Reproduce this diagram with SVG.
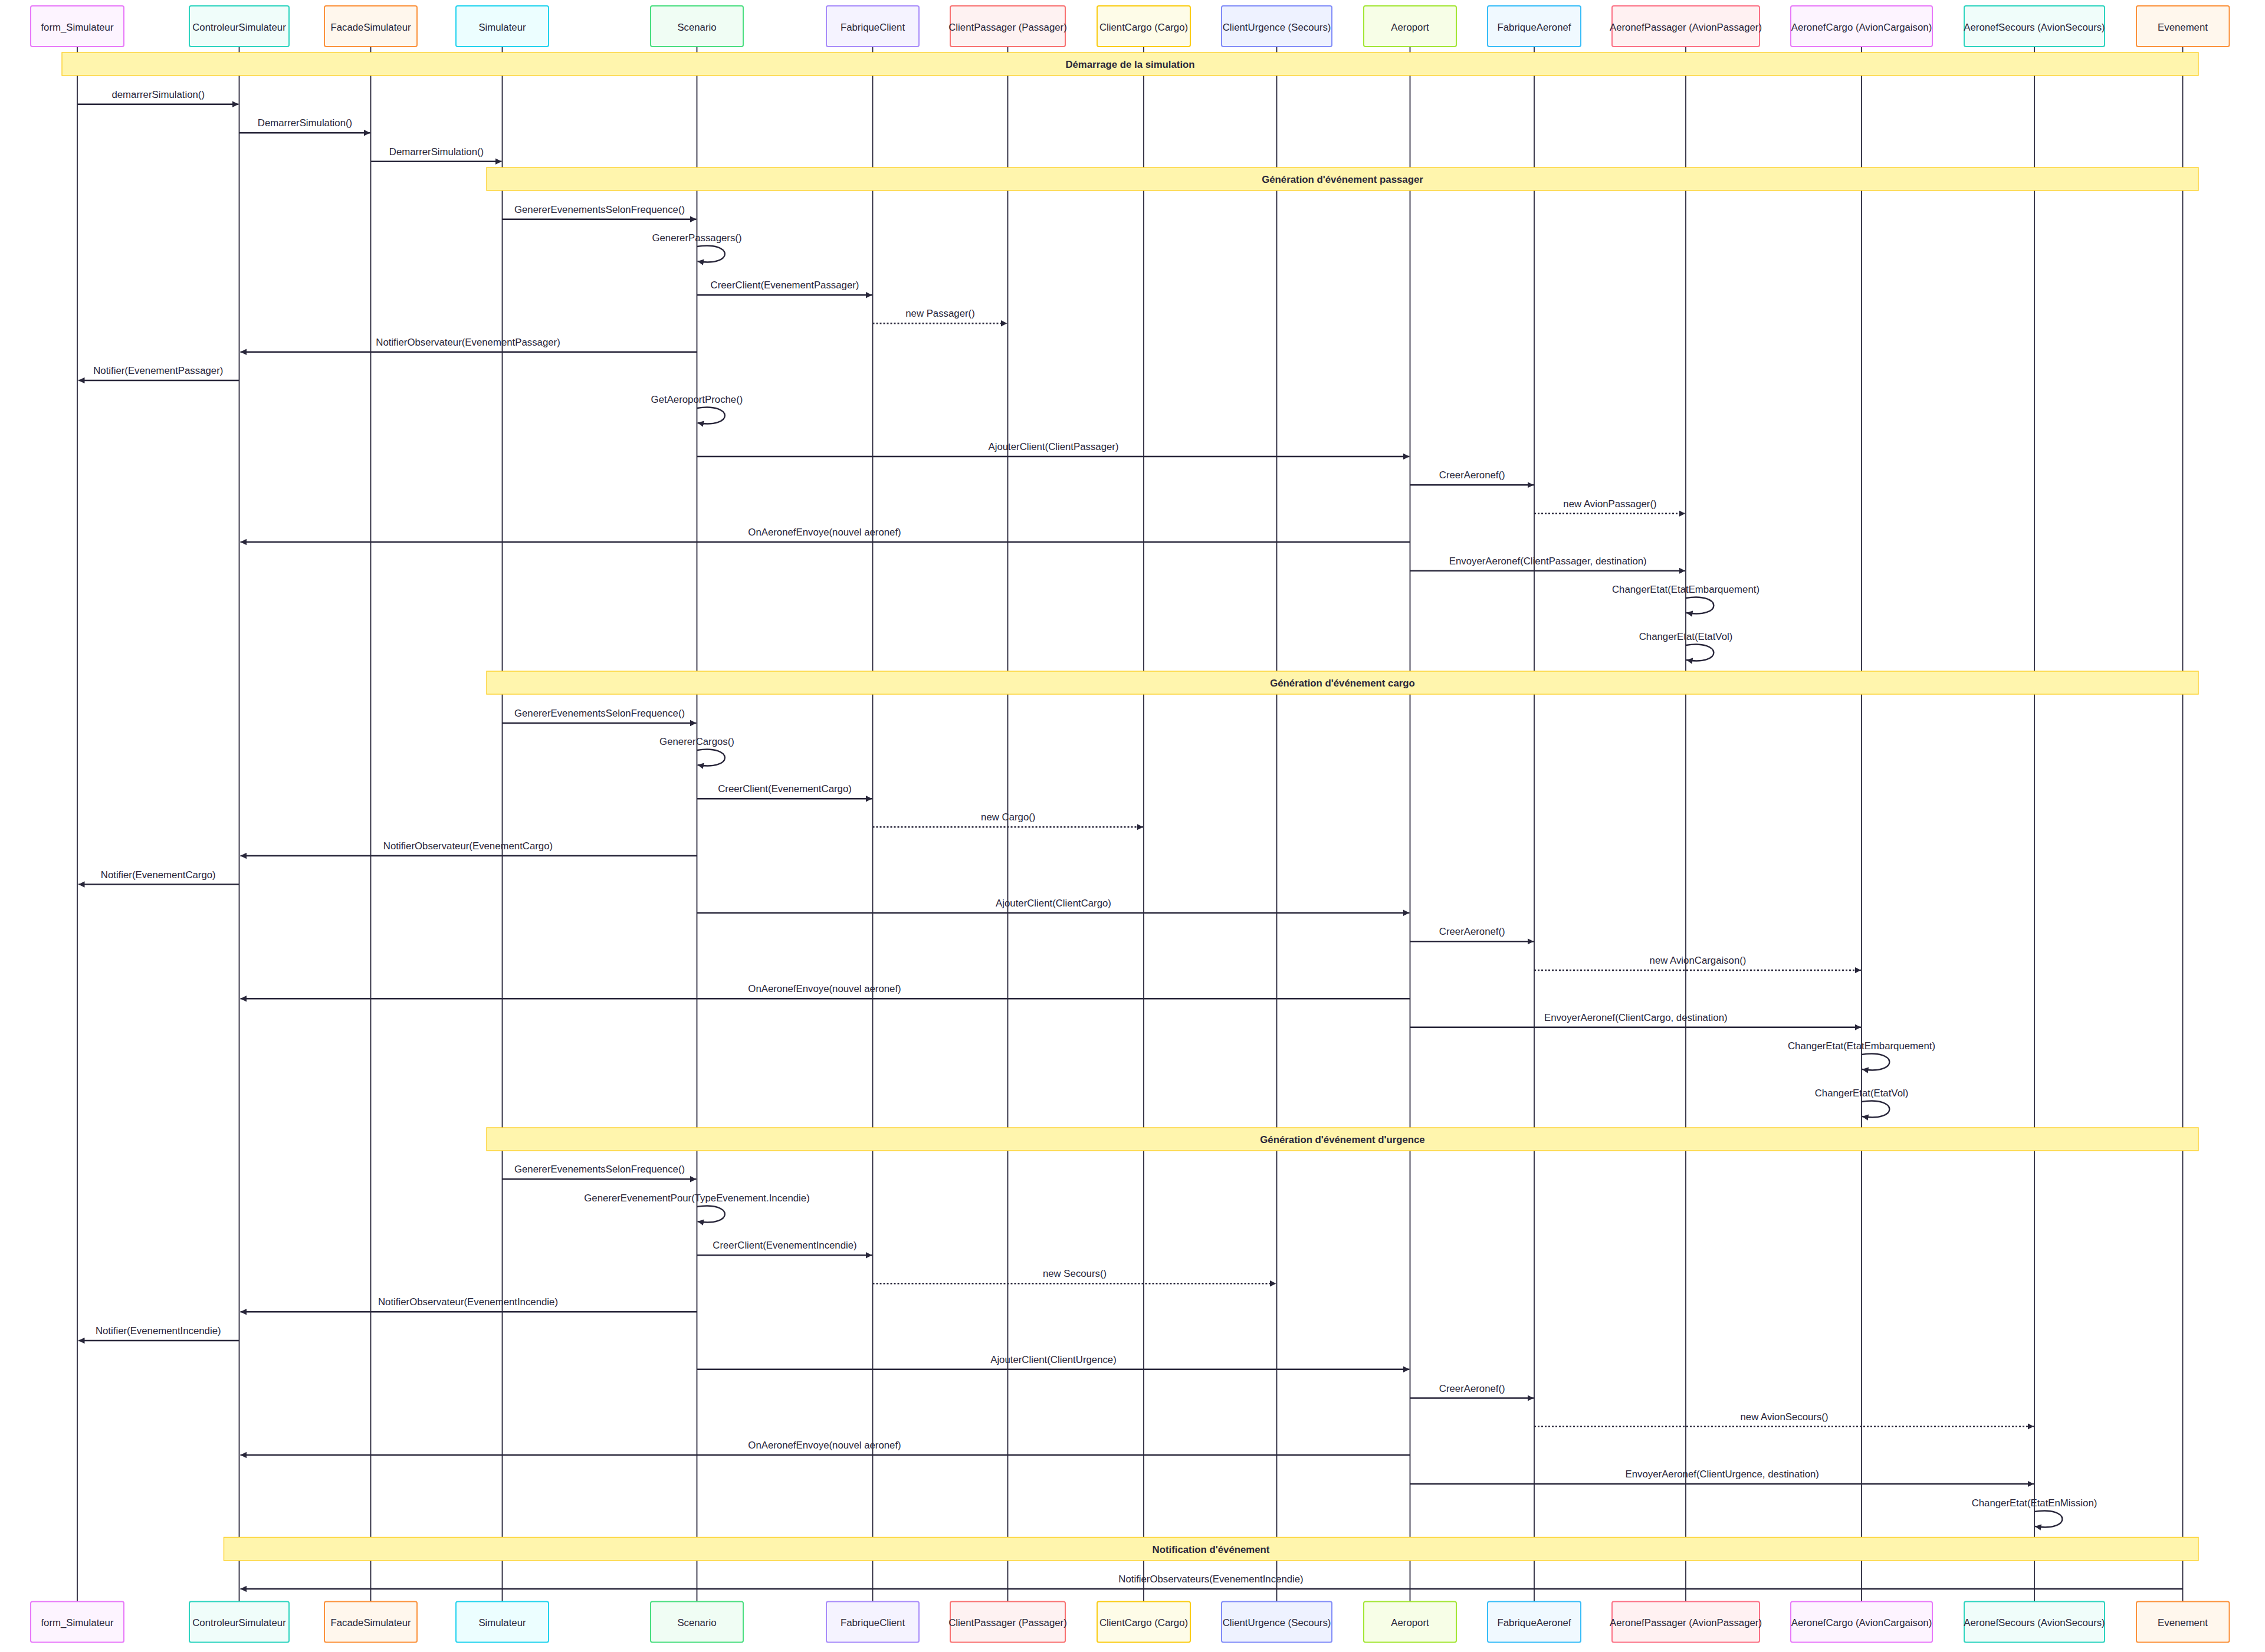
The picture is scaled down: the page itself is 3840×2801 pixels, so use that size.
<svg xmlns="http://www.w3.org/2000/svg" width="3840" height="2801" viewBox="0 0 3840 2801">
<style>
  text { font-family: "Liberation Sans", Arial, sans-serif; fill: #28263a; }
  .actor text { font-size: 16.8px; text-anchor: middle; }
  .actor rect { stroke-width: 2; }
  .life { stroke: #28263a; stroke-width: 1.8; }
  .msg { stroke: #28263a; stroke-width: 2.4; fill: none; marker-end: url(#arrow); }
  .dot { stroke-dasharray: 3 3; }
  .lbl { font-size: 16.8px; text-anchor: middle; }
  .note rect { fill: #fff5ad; stroke: #fcd02c; stroke-width: 1.4; }
  .note text { font-size: 16.8px; font-weight: bold; text-anchor: middle; }
  .c1 { fill: #fdf4ff; stroke: #e879f9; }
  .c2 { fill: #f0fdfa; stroke: #2dd4bf; }
  .c3 { fill: #fff7ed; stroke: #fb923c; }
  .c4 { fill: #ecfeff; stroke: #22d3ee; }
  .c5 { fill: #f0fdf4; stroke: #4ade80; }
  .c6 { fill: #f5f3ff; stroke: #a78bfa; }
  .c7 { fill: #fef2f2; stroke: #f87171; }
  .c8 { fill: #fefce8; stroke: #facc15; }
  .c9 { fill: #eef2ff; stroke: #818cf8; }
  .c10 { fill: #f7fee7; stroke: #a3e635; }
  .c11 { fill: #f0f9ff; stroke: #38bdf8; }
  .c12 { fill: #fff1f2; stroke: #fb7185; }
</style>
<defs>
  <marker id="arrow" viewBox="0 0 10 10" refX="10" refY="5" markerWidth="10.5" markerHeight="10.5" markerUnits="userSpaceOnUse" orient="auto">
    <path d="M0,0 L10,5 L0,10 z" fill="#28263a"/>
  </marker>
</defs>
<rect width="3840" height="2801" fill="#ffffff"/>

<g id="lifelines">
  <line class="life" x1="131" y1="79" x2="131" y2="2715"/>
  <line class="life" x1="405.5" y1="79" x2="405.5" y2="2715"/>
  <line class="life" x1="628.5" y1="79" x2="628.5" y2="2715"/>
  <line class="life" x1="851.5" y1="79" x2="851.5" y2="2715"/>
  <line class="life" x1="1181.5" y1="79" x2="1181.5" y2="2715"/>
  <line class="life" x1="1479.5" y1="79" x2="1479.5" y2="2715"/>
  <line class="life" x1="1708.5" y1="79" x2="1708.5" y2="2715"/>
  <line class="life" x1="1939" y1="79" x2="1939" y2="2715"/>
  <line class="life" x1="2164.5" y1="79" x2="2164.5" y2="2715"/>
  <line class="life" x1="2390.5" y1="79" x2="2390.5" y2="2715"/>
  <line class="life" x1="2601" y1="79" x2="2601" y2="2715"/>
  <line class="life" x1="2858" y1="79" x2="2858" y2="2715"/>
  <line class="life" x1="3156" y1="79" x2="3156" y2="2715"/>
  <line class="life" x1="3449" y1="79" x2="3449" y2="2715"/>
  <line class="life" x1="3700.5" y1="79" x2="3700.5" y2="2715"/>
</g>

<g id="actors-top">
  <g id="form_Simulateur" class="actor"><rect class="c1" x="52" y="10" width="158" height="69" rx="3"/><text x="131" y="51.5">form_Simulateur</text></g>
  <g id="ControleurSimulateur" class="actor"><rect class="c2" x="321" y="10" width="169" height="69" rx="3"/><text x="405.5" y="51.5">ControleurSimulateur</text></g>
  <g id="FacadeSimulateur" class="actor"><rect class="c3" x="550" y="10" width="157" height="69" rx="3"/><text x="628.5" y="51.5">FacadeSimulateur</text></g>
  <g id="Simulateur" class="actor"><rect class="c4" x="773" y="10" width="157" height="69" rx="3"/><text x="851.5" y="51.5">Simulateur</text></g>
  <g id="Scenario" class="actor"><rect class="c5" x="1103" y="10" width="157" height="69" rx="3"/><text x="1181.5" y="51.5">Scenario</text></g>
  <g id="FabriqueClient" class="actor"><rect class="c6" x="1401" y="10" width="157" height="69" rx="3"/><text x="1479.5" y="51.5">FabriqueClient</text></g>
  <g id="ClientPassager" class="actor"><rect class="c7" x="1611" y="10" width="195" height="69" rx="3"/><text x="1708.5" y="51.5">ClientPassager (Passager)</text></g>
  <g id="ClientCargo" class="actor"><rect class="c8" x="1860" y="10" width="158" height="69" rx="3"/><text x="1939" y="51.5">ClientCargo (Cargo)</text></g>
  <g id="ClientUrgence" class="actor"><rect class="c9" x="2071" y="10" width="187" height="69" rx="3"/><text x="2164.5" y="51.5">ClientUrgence (Secours)</text></g>
  <g id="Aeroport" class="actor"><rect class="c10" x="2312" y="10" width="157" height="69" rx="3"/><text x="2390.5" y="51.5">Aeroport</text></g>
  <g id="FabriqueAeronef" class="actor"><rect class="c11" x="2522" y="10" width="158" height="69" rx="3"/><text x="2601" y="51.5">FabriqueAeronef</text></g>
  <g id="AeronefPassager" class="actor"><rect class="c12" x="2733" y="10" width="250" height="69" rx="3"/><text x="2858" y="51.5">AeronefPassager (AvionPassager)</text></g>
  <g id="AeronefCargo" class="actor"><rect class="c1" x="3036" y="10" width="240" height="69" rx="3"/><text x="3156" y="51.5">AeronefCargo (AvionCargaison)</text></g>
  <g id="AeronefSecours" class="actor"><rect class="c2" x="3330" y="10" width="238" height="69" rx="3"/><text x="3449" y="51.5">AeronefSecours (AvionSecours)</text></g>
  <g id="Evenement" class="actor"><rect class="c3" x="3622" y="10" width="157.5" height="69" rx="3"/><text x="3700.5" y="51.5">Evenement</text></g>
</g>

<g id="actors-bottom">
  <g id="form_Simulateur_bottom" class="actor"><rect class="c1" x="52" y="2715.5" width="158" height="69" rx="3"/><text x="131" y="2756.5">form_Simulateur</text></g>
  <g id="ControleurSimulateur_bottom" class="actor"><rect class="c2" x="321" y="2715.5" width="169" height="69" rx="3"/><text x="405.5" y="2756.5">ControleurSimulateur</text></g>
  <g id="FacadeSimulateur_bottom" class="actor"><rect class="c3" x="550" y="2715.5" width="157" height="69" rx="3"/><text x="628.5" y="2756.5">FacadeSimulateur</text></g>
  <g id="Simulateur_bottom" class="actor"><rect class="c4" x="773" y="2715.5" width="157" height="69" rx="3"/><text x="851.5" y="2756.5">Simulateur</text></g>
  <g id="Scenario_bottom" class="actor"><rect class="c5" x="1103" y="2715.5" width="157" height="69" rx="3"/><text x="1181.5" y="2756.5">Scenario</text></g>
  <g id="FabriqueClient_bottom" class="actor"><rect class="c6" x="1401" y="2715.5" width="157" height="69" rx="3"/><text x="1479.5" y="2756.5">FabriqueClient</text></g>
  <g id="ClientPassager_bottom" class="actor"><rect class="c7" x="1611" y="2715.5" width="195" height="69" rx="3"/><text x="1708.5" y="2756.5">ClientPassager (Passager)</text></g>
  <g id="ClientCargo_bottom" class="actor"><rect class="c8" x="1860" y="2715.5" width="158" height="69" rx="3"/><text x="1939" y="2756.5">ClientCargo (Cargo)</text></g>
  <g id="ClientUrgence_bottom" class="actor"><rect class="c9" x="2071" y="2715.5" width="187" height="69" rx="3"/><text x="2164.5" y="2756.5">ClientUrgence (Secours)</text></g>
  <g id="Aeroport_bottom" class="actor"><rect class="c10" x="2312" y="2715.5" width="157" height="69" rx="3"/><text x="2390.5" y="2756.5">Aeroport</text></g>
  <g id="FabriqueAeronef_bottom" class="actor"><rect class="c11" x="2522" y="2715.5" width="158" height="69" rx="3"/><text x="2601" y="2756.5">FabriqueAeronef</text></g>
  <g id="AeronefPassager_bottom" class="actor"><rect class="c12" x="2733" y="2715.5" width="250" height="69" rx="3"/><text x="2858" y="2756.5">AeronefPassager (AvionPassager)</text></g>
  <g id="AeronefCargo_bottom" class="actor"><rect class="c1" x="3036" y="2715.5" width="240" height="69" rx="3"/><text x="3156" y="2756.5">AeronefCargo (AvionCargaison)</text></g>
  <g id="AeronefSecours_bottom" class="actor"><rect class="c2" x="3330" y="2715.5" width="238" height="69" rx="3"/><text x="3449" y="2756.5">AeronefSecours (AvionSecours)</text></g>
  <g id="Evenement_bottom" class="actor"><rect class="c3" x="3622" y="2715.5" width="157.5" height="69" rx="3"/><text x="3700.5" y="2756.5">Evenement</text></g>
</g>

<g id="notes">
  <g id="note1" class="note"><rect x="105" y="89" width="3622" height="39"/><text x="1916" y="114.5">Démarrage de la simulation</text></g>
  <g id="note2" class="note"><rect x="825" y="284" width="2902" height="39"/><text x="2276" y="309.5">Génération d'événement passager</text></g>
  <g id="note3" class="note"><rect x="825" y="1138" width="2902" height="39"/><text x="2276" y="1163.5">Génération d'événement cargo</text></g>
  <g id="note4" class="note"><rect x="825" y="1912" width="2902" height="39"/><text x="2276" y="1937.5">Génération d'événement d'urgence</text></g>
  <g id="note5" class="note"><rect x="379.5" y="2606.5" width="3347.5" height="39.5"/><text x="2053" y="2632.5">Notification d'événement</text></g>
</g>

<g id="connectors">
  <path class="msg" d="M131,176.7 H404.5"/>
  <path class="msg" d="M405.5,225.3 H627.5"/>
  <path class="msg" d="M628.5,273.7 H850.5"/>
  <path class="msg" d="M851.5,371.7 H1180.5"/>
  <path class="msg" d="M1181.5,418 C1244.5,408 1244.5,453 1182.5,443"/>
  <path class="msg" d="M1181.5,500.3 H1478.5"/>
  <path class="msg dot" d="M1479.5,548.3 H1707.5"/>
  <path class="msg" d="M1181.5,596.7 H407.5"/>
  <path class="msg" d="M405.5,645 H133"/>
  <path class="msg" d="M1181.5,692 C1244.5,682 1244.5,727 1182.5,717"/>
  <path class="msg" d="M1181.5,774 H2389.5"/>
  <path class="msg" d="M2390.5,822.3 H2600"/>
  <path class="msg dot" d="M2601,870.7 H2857"/>
  <path class="msg" d="M2390.5,919 H407.5"/>
  <path class="msg" d="M2390.5,967.7 H2857"/>
  <path class="msg" d="M2858,1014 C2921,1004 2921,1049 2859,1039"/>
  <path class="msg" d="M2858,1094 C2921,1084 2921,1129 2859,1119"/>

  <path class="msg" d="M851.5,1226 H1180.5"/>
  <path class="msg" d="M1181.5,1272 C1244.5,1262 1244.5,1307 1182.5,1297"/>
  <path class="msg" d="M1181.5,1354.3 H1478.5"/>
  <path class="msg dot" d="M1479.5,1402.3 H1938"/>
  <path class="msg" d="M1181.5,1451 H407.5"/>
  <path class="msg" d="M405.5,1499.5 H133"/>
  <path class="msg" d="M1181.5,1547.7 H2389.5"/>
  <path class="msg" d="M2390.5,1596.3 H2600"/>
  <path class="msg dot" d="M2601,1645 H3155"/>
  <path class="msg" d="M2390.5,1693.3 H407.5"/>
  <path class="msg" d="M2390.5,1741.7 H3155"/>
  <path class="msg" d="M3156,1788 C3219,1778 3219,1823 3157,1813"/>
  <path class="msg" d="M3156,1868 C3219,1858 3219,1903 3157,1893"/>

  <path class="msg" d="M851.5,1999.3 H1180.5"/>
  <path class="msg" d="M1181.5,2046 C1244.5,2036 1244.5,2081 1182.5,2071"/>
  <path class="msg" d="M1181.5,2128.3 H1478.5"/>
  <path class="msg dot" d="M1479.5,2176.3 H2163.5"/>
  <path class="msg" d="M1181.5,2224.3 H407.5"/>
  <path class="msg" d="M405.5,2273 H133"/>
  <path class="msg" d="M1181.5,2321.7 H2389.5"/>
  <path class="msg" d="M2390.5,2370.5 H2600"/>
  <path class="msg dot" d="M2601,2418.6 H3448"/>
  <path class="msg" d="M2390.5,2467 H407.5"/>
  <path class="msg" d="M2390.5,2516 H3448"/>
  <path class="msg" d="M3449,2563 C3512,2553 3512,2598 3450,2588"/>

  <path class="msg" d="M3700.5,2694 H407.5"/>
</g>

<g id="labels">
  <text class="lbl" x="268.25" y="165.7">demarrerSimulation()</text>
  <text class="lbl" x="517" y="214.3">DemarrerSimulation()</text>
  <text class="lbl" x="740" y="262.7">DemarrerSimulation()</text>
  <text class="lbl" x="1016.5" y="360.7">GenererEvenementsSelonFrequence()</text>
  <text class="lbl" x="1181.5" y="408.5">GenererPassagers()</text>
  <text class="lbl" x="1330.5" y="489.3">CreerClient(EvenementPassager)</text>
  <text class="lbl" x="1594" y="537.3">new Passager()</text>
  <text class="lbl" x="793.5" y="585.7">NotifierObservateur(EvenementPassager)</text>
  <text class="lbl" x="268.25" y="634">Notifier(EvenementPassager)</text>
  <text class="lbl" x="1181.5" y="682.5">GetAeroportProche()</text>
  <text class="lbl" x="1786" y="763">AjouterClient(ClientPassager)</text>
  <text class="lbl" x="2495.75" y="811.3">CreerAeronef()</text>
  <text class="lbl" x="2729.5" y="859.7">new AvionPassager()</text>
  <text class="lbl" x="1398" y="908">OnAeronefEnvoye(nouvel aeronef)</text>
  <text class="lbl" x="2624.25" y="956.7">EnvoyerAeronef(ClientPassager, destination)</text>
  <text class="lbl" x="2858" y="1004.5">ChangerEtat(EtatEmbarquement)</text>
  <text class="lbl" x="2858" y="1084.5">ChangerEtat(EtatVol)</text>

  <text class="lbl" x="1016.5" y="1215">GenererEvenementsSelonFrequence()</text>
  <text class="lbl" x="1181.5" y="1262.5">GenererCargos()</text>
  <text class="lbl" x="1330.5" y="1343.3">CreerClient(EvenementCargo)</text>
  <text class="lbl" x="1709.25" y="1391.3">new Cargo()</text>
  <text class="lbl" x="793.5" y="1440">NotifierObservateur(EvenementCargo)</text>
  <text class="lbl" x="268.25" y="1488.5">Notifier(EvenementCargo)</text>
  <text class="lbl" x="1786" y="1536.7">AjouterClient(ClientCargo)</text>
  <text class="lbl" x="2495.75" y="1585.3">CreerAeronef()</text>
  <text class="lbl" x="2878.5" y="1634">new AvionCargaison()</text>
  <text class="lbl" x="1398" y="1682.3">OnAeronefEnvoye(nouvel aeronef)</text>
  <text class="lbl" x="2773.25" y="1730.7">EnvoyerAeronef(ClientCargo, destination)</text>
  <text class="lbl" x="3156" y="1778.5">ChangerEtat(EtatEmbarquement)</text>
  <text class="lbl" x="3156" y="1858.5">ChangerEtat(EtatVol)</text>

  <text class="lbl" x="1016.5" y="1988.3">GenererEvenementsSelonFrequence()</text>
  <text class="lbl" x="1181.5" y="2036.5">GenererEvenementPour(TypeEvenement.Incendie)</text>
  <text class="lbl" x="1330.5" y="2117.3">CreerClient(EvenementIncendie)</text>
  <text class="lbl" x="1822" y="2165.3">new Secours()</text>
  <text class="lbl" x="793.5" y="2213.3">NotifierObservateur(EvenementIncendie)</text>
  <text class="lbl" x="268.25" y="2262">Notifier(EvenementIncendie)</text>
  <text class="lbl" x="1786" y="2310.7">AjouterClient(ClientUrgence)</text>
  <text class="lbl" x="2495.75" y="2359.5">CreerAeronef()</text>
  <text class="lbl" x="3025" y="2407.6">new AvionSecours()</text>
  <text class="lbl" x="1398" y="2456">OnAeronefEnvoye(nouvel aeronef)</text>
  <text class="lbl" x="2919.75" y="2505">EnvoyerAeronef(ClientUrgence, destination)</text>
  <text class="lbl" x="3449" y="2553.5">ChangerEtat(EtatEnMission)</text>

  <text class="lbl" x="2053" y="2683">NotifierObservateurs(EvenementIncendie)</text>
</g>
</svg>
